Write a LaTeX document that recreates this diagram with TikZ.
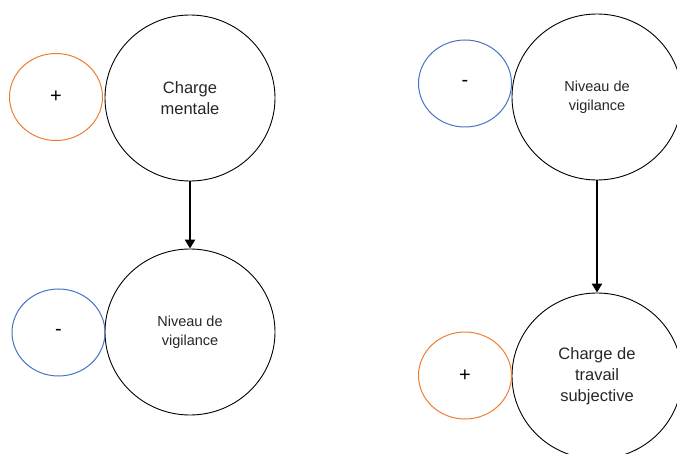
\documentclass[tikz,border=0pt]{standalone}
\usepackage{fontspec}
\setmainfont{Liberation Sans}
\usetikzlibrary{shapes.geometric,arrows.meta}
\definecolor{signorange}{HTML}{ED7D31}
\definecolor{signblue}{HTML}{4472C4}
\begin{document}
\begin{tikzpicture}[
  x=1pt,
  y=-1pt,
  factor/.style={draw=black,line width=0.9pt,ellipse,inner sep=0pt,
    minimum width=170pt,minimum height=166pt,align=center,text=black!85},
  bigtext/.style={font=\fontsize{16.5}{21}\selectfont},
  smalltext/.style={font=\fontsize{14.5}{19}\selectfont},
  sign/.style={ellipse,line width=1pt,inner sep=0pt,minimum width=93pt,
    minimum height=87pt,font=\fontsize{20}{22}\selectfont},
  plus/.style={sign,draw=signorange},
  minus/.style={sign,draw=signblue},
  link/.style={draw=black,line width=2.4pt,-{Triangle[length=9pt,width=10pt]}}
]
  \useasboundingbox (0,0) rectangle (677,454);

  % left column
  \node[factor,bigtext] (charge) at (190,98) {Charge\\mentale};
  \node[plus] (chargesign) at (56,97) {+};
  \node[factor,smalltext] (vigil) at (190,332) {Niveau de\\vigilance};
  \node[minus] (vigilsign) at (58.5,332.5) {-};
  \draw[link] (charge.south) -- (vigil.north);

  % right column
  \node[factor,smalltext] (vigilr) at (597,97) {Niveau de\\vigilance};
  \node[minus] (vigilrsign) at (465,83.5) {-};
  \node[factor,bigtext] (travail) at (597,376) {Charge de\\travail\\subjective};
  \node[plus] (travailsign) at (465,375.5) {+};
  \draw[link] (vigilr.south) -- (travail.north);
\end{tikzpicture}
\end{document}
